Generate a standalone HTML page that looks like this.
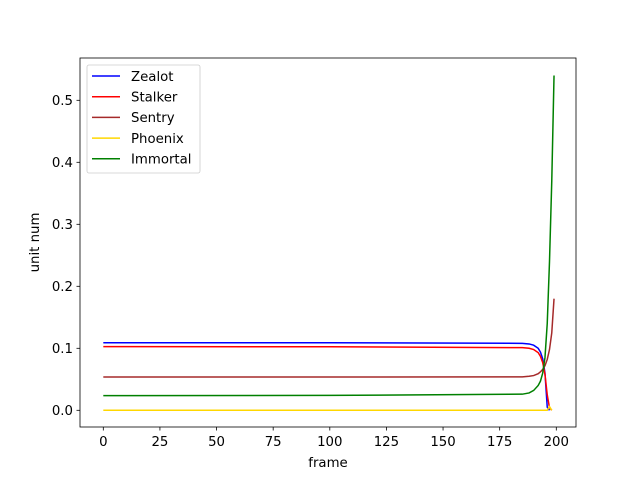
<!DOCTYPE html>
<html><head><meta charset="utf-8"><style>
body{margin:0;background:#fff;font-family:"Liberation Sans","DejaVu Sans",sans-serif}
svg text{font-family:"DejaVu Sans","Liberation Sans",sans-serif;font-size:13.3px;fill:#000}
</style></head><body>
<svg id="chart" width="640" height="480" viewBox="0 0 640 480" xmlns="http://www.w3.org/2000/svg"></svg>
<script>
const seriesNames = ["Zealot","Stalker","Sentry","Phoenix","Immortal"];
const seriesColors = ["#0000ff","#ff0000","#a52a2a","#ffd700","#008000"];
const frames = [0, 100, 185, 188, 190, 192, 193, 194, 195, 196, 197, 198, 199];
const zealot = [0.109, 0.109, 0.108, 0.107, 0.105, 0.100, 0.094, 0.083, 0.060, 0.005, 0.0, null, null];
const stalker = [0.1027, 0.1025, 0.101, 0.100, 0.098, 0.093, 0.087, 0.077, 0.058, 0.025, 0.004, 0.0, null];
const sentry = [0.0537, 0.0537, 0.054, 0.055, 0.056, 0.059, 0.062, 0.066, 0.072, 0.082, 0.098, 0.125, 0.18];
const phoenix = [0.0, 0.0, 0.0, 0.0, 0.0, 0.0, 0.0, 0.0, 0.0, 0.0, 0.006, 0.0, null];
const immortal = [0.0237, 0.0240, 0.026, 0.028, 0.032, 0.040, 0.047, 0.060, 0.085, 0.14, 0.24, 0.37, 0.54];
const xTicks = [0,25,50,75,100,125,150,175,200];
const yTicks = [0.0,0.1,0.2,0.3,0.4,0.5];
const allSeries = [zealot, stalker, sentry, phoenix, immortal];

const NS = "http://www.w3.org/2000/svg";
const svg = document.getElementById("chart");
const L=80,R=576,T=58,B=427;
const xs = f => 103.3 + f*2.265;
const ys = v => 410.3 - v*620;
function mk(tag, attrs, parent){const e=document.createElementNS(NS,tag);for(const k in attrs)e.setAttribute(k,attrs[k]);(parent||svg).appendChild(e);return e;}

allSeries.forEach((s,i)=>{
  let d="";let started=false;
  s.forEach((v,j)=>{ if(v===null)return; d+=(started?"L":"M")+xs(frames[j]).toFixed(2)+","+ys(v).toFixed(2); started=true;});
  const p=mk("path",{d:d,fill:"none",stroke:seriesColors[i],"stroke-width":1.5});
  
  
});

const frame=mk("rect",{x:L,y:T,width:R-L,height:B-T,fill:"none",stroke:"#000","stroke-width":0.8});



xTicks.forEach(t=>{
  const x=xs(t);
  const ln=mk("line",{x1:x,x2:x,y1:B,y2:B+3.5,stroke:"#000","stroke-width":0.8});
  
  
  const tx=mk("text",{x:x,y:B+19,"text-anchor":"middle"});tx.textContent=t;
  
  
});
yTicks.forEach(t=>{
  const y=ys(t);
  const ln=mk("line",{x1:L-3.5,x2:L,y1:y,y2:y,stroke:"#000","stroke-width":0.8});
  
  
  const tx=mk("text",{x:L-7,y:y+4.8,"text-anchor":"end"});tx.textContent=t.toFixed(1);
  
  
});
const xt=mk("text",{x:(L+R)/2,y:467,"text-anchor":"middle"});xt.textContent="frame";


const yt=mk("text",{x:39,y:(T+B)/2,"text-anchor":"middle",transform:"rotate(-90 39 "+((T+B)/2)+")"});yt.textContent="unit num";



const lg=mk("g",{});


mk("rect",{x:87,y:65,width:113,height:108,rx:2,fill:"#fff",stroke:"#ccc","stroke-width":0.8},lg);
seriesNames.forEach((n,i)=>{
  const y=76+i*20.7;
  const ln=mk("line",{x1:92,x2:120,y1:y,y2:y,stroke:seriesColors[i],"stroke-width":1.5},lg);
  
  
  const tx=mk("text",{x:131,y:y+4.8},lg);tx.textContent=n;
  
  
});
</script>
</body></html>
